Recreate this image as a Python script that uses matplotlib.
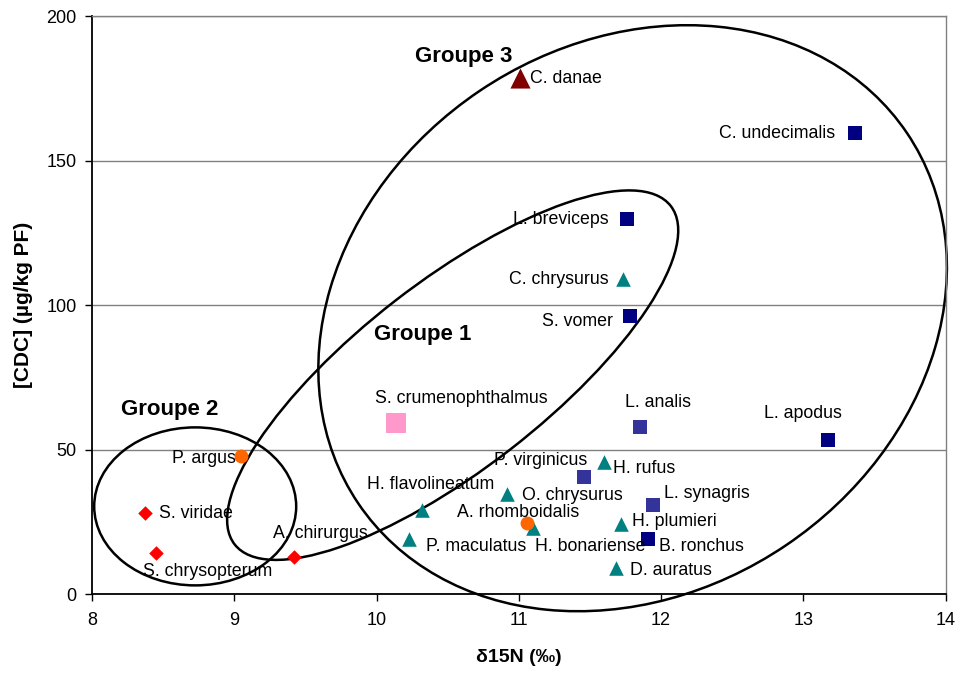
import matplotlib
matplotlib.use("Agg")
import matplotlib.pyplot as plt
from matplotlib.patches import Ellipse
from matplotlib.transforms import ScaledTranslation

plt.rcParams['font.family'] = ['Liberation Sans', 'DejaVu Sans']

# species, d15N, CDC
species = ['C. danae', 'C. undecimalis', 'L. breviceps', 'C. chrysurus', 'S. vomer',
           'S. crumenophthalmus', 'L. analis', 'L. apodus', 'P. argus', 'P. virginicus',
           'H. rufus', 'O. chrysurus', 'L. synagris', 'H. flavolineatum', 'S. viridae',
           'A. rhomboidalis', 'H. bonariense', 'H. plumieri', 'B. ronchus', 'P. maculatus',
           'S. chrysopterum', 'A. chirurgus', 'D. auratus']
d15n = [11.01, 13.36, 11.76, 11.73, 11.78,
        10.14, 11.85, 13.17, 9.05, 11.46,
        11.60, 10.92, 11.94, 10.32, 8.37,
        11.06, 11.10, 11.72, 11.91, 10.23,
        8.45, 9.42, 11.68]
cdc = [178.5, 159.5, 129.8, 109.0, 96.2,
       59.2, 57.8, 53.3, 47.8, 40.5,
       45.7, 34.6, 30.8, 29.0, 28.0,
       24.6, 22.8, 24.2, 19.0, 19.0,
       14.2, 12.8, 9.0]
kind = ['danae', 'navy', 'navy', 'teal', 'navy',
        'pink', 'blue', 'navy', 'orange', 'blue',
        'teal', 'teal', 'blue', 'teal', 'red',
        'orange', 'teal', 'teal', 'navy', 'teal',
        'red', 'red', 'teal']

styles = {
    'navy': dict(marker='s', c='#000080', s=95),
    'blue': dict(marker='s', c='#333399', s=95),
    'teal': dict(marker='^', c='#008080', s=110),
    'orange': dict(marker='o', c='#FF6600', s=100),
    'red': dict(marker='D', c='#FF0000', s=55),
    'pink': dict(marker='s', c='#FF99CC', s=200),
    'danae': dict(marker='^', c='#800000', s=210),
}

# label offsets in pixels (dx, dy, ha)
label_pos = {
    'C. danae': (10, 0, 'left'), 'C. undecimalis': (-19, 0, 'right'),
    'L. breviceps': (-18, 0, 'right'), 'C. chrysurus': (-14, 0, 'right'),
    'S. vomer': (-17, -5, 'right'), 'S. crumenophthalmus': (-21, 25, 'left'),
    'L. analis': (-15, 25, 'left'), 'L. apodus': (-64, 27, 'left'),
    'P. argus': (-6, -2, 'right'), 'P. virginicus': (3, 17, 'right'),
    'H. rufus': (9, -6, 'left'), 'O. chrysurus': (15, -1, 'left'),
    'L. synagris': (11, 12, 'left'), 'H. flavolineatum': (-55, 26, 'left'),
    'S. viridae': (14, 0, 'left'), 'A. rhomboidalis': (-70, 11, 'left'),
    'H. bonariense': (2, -18, 'left'), 'H. plumieri': (11, 3, 'left'),
    'B. ronchus': (11, -7, 'left'), 'P. maculatus': (17, -7, 'left'),
    'S. chrysopterum': (-13, -18, 'left'), 'A. chirurgus': (-21, 24, 'left'),
    'D. auratus': (14, -2, 'left'),
}

fig = plt.figure(figsize=(9.59, 6.73), dpi=100)
ax = fig.add_axes([0.096, 0.117, 0.890, 0.859])

for k, st in styles.items():
    xs = [x for x, t in zip(d15n, kind) if t == k]
    ys = [y for y, t in zip(cdc, kind) if t == k]
    ax.scatter(xs, ys, marker=st['marker'], c=st['c'], s=st['s'],
               linewidths=0, zorder=3, clip_on=False)

for name, x, y in zip(species, d15n, cdc):
    dx, dy, ha = label_pos[name]
    ax.annotate(name, (x, y), xytext=(dx, dy), textcoords='offset pixels',
                ha=ha, va='center', fontsize=12.8, zorder=4)

# group ellipses: centre in data, semi-axes in pixels, angle in degrees
def group_ellipse(cx, cy, a, b, ang):
    tr = fig.dpi_scale_trans + ScaledTranslation(cx, cy, ax.transData)
    e = Ellipse((0, 0), 2 * a / 100, 2 * b / 100, angle=ang, transform=tr,
                fill=False, ec='black', lw=1.8, clip_on=False, zorder=2)
    ax.add_patch(e)

group_ellipse(10.535, 75.8, 276, 94, 37.8)
group_ellipse(11.80, 95.5, 331, 274, 34)
group_ellipse(8.725, 30.4, 101, 79, 0)

ax.text(8.2, 64, 'Groupe 2', fontsize=16, fontweight='bold', ha='left', va='center')
ax.text(9.98, 90, 'Groupe 1', fontsize=16, fontweight='bold', ha='left', va='center')
ax.text(10.27, 186, 'Groupe 3', fontsize=16, fontweight='bold', ha='left', va='center')

ax.set_xlim(8, 14)
ax.set_ylim(0, 200)
ax.set_xticks(range(8, 15))
ax.set_yticks(range(0, 201, 50))
ax.tick_params(labelsize=13, direction='out', length=5, width=1)
ax.tick_params(axis='x', pad=8)
ax.tick_params(axis='y', pad=6)
ax.yaxis.grid(True, color='#808080', lw=1)
ax.set_axisbelow(True)
for side in ['top', 'right']:
    ax.spines[side].set_color('#808080')
    ax.spines[side].set_linewidth(1)
for side in ['left', 'bottom']:
    ax.spines[side].set_color('black')
    ax.spines[side].set_linewidth(1.3)

ax.set_xlabel('δ15N (‰)', fontsize=14, fontweight='bold', labelpad=14)
ax.set_ylabel('[CDC] (µg/kg PF)', fontsize=15, fontweight='bold', labelpad=10)

fig.savefig('out.png', dpi=100)
